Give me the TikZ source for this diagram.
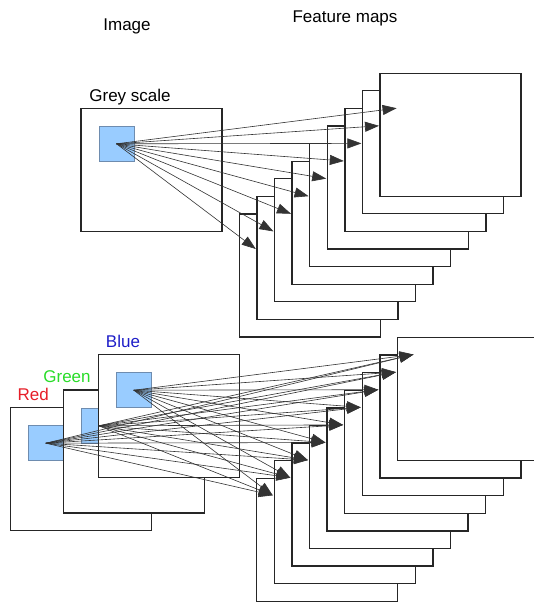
\documentclass[tikz,border=0pt]{standalone}
\usepackage{fontspec}
\setmainfont{Liberation Sans}
\usepackage{tikz}
\usetikzlibrary{calc,positioning,arrows.meta}
\definecolor{patchblue}{RGB}{153,204,255}
\definecolor{patchedge}{RGB}{110,140,175}
\definecolor{redlbl}{RGB}{230,30,40}
\definecolor{greenlbl}{RGB}{40,220,40}
\definecolor{bluelbl}{RGB}{30,30,200}

\begin{document}
\begin{tikzpicture}[
        x=1pt, y=-1pt,
        fmap/.style={draw=black!85, line width=1.3pt, fill=white,
          minimum width=141pt, minimum height=123pt, inner sep=0pt,
          outer sep=0pt, anchor=north west},
        patch/.style={draw=patchedge, line width=0.6pt, fill=patchblue,
          minimum size=35pt, inner sep=0pt, outer sep=0pt, anchor=north west},
        lbl/.style={font=\fontsize{17}{20}\selectfont, inner sep=0pt, anchor=base},
        link/.style={draw=black!80, line width=0.6pt,
          -{Triangle[length=14pt,width=10pt]}},
      ]
      \useasboundingbox (0,0) rectangle (534,602);
      \node[lbl] (image) at (127,31) {Image};
      \node[lbl] (features) at (345,22.5) {Feature maps};

      % grey scale input
      \node[lbl] (greylbl) at (130,101.5) {Grey scale};
      \node[fmap] (grey) at (81,108.3) {};
      \node[patch] (greypatch) at (99,126.3) {};
      \foreach \i in {1,...,9}
        \node[fmap] (top\i) at ({239.3+17.6*(\i-1)},{214-17.6*(\i-1)}) {};
      \foreach \i in {1,...,9}
        \draw[link] (greypatch.center) -- ($(top\i.north west)+(16.5,35)$);

      % colour input
      \node[lbl, text=redlbl] (redlbl) at (33.3,400) {Red};
      \node[lbl, text=greenlbl] (greenlbl) at (67,382.7) {Green};
      \node[lbl, text=bluelbl] (bluelbl) at (123,347.3) {Blue};
      \node[fmap] (red) at (10.7,407.7) {};
      \node[patch] (redpatch) at (28.3,425.7) {};
      \node[fmap] (green) at (63.3,390) {};
      \node[patch] (greenpatch) at (81.3,408.3) {};
      \node[fmap] (blue) at (98.7,354.7) {};
      \node[patch] (bluepatch) at (116.3,372.7) {};
      \foreach \i in {1,...,9}
        \node[fmap] (bot\i) at ({256.7+17.6*(\i-1)},{478.3-17.6*(\i-1)}) {};
      \foreach \s in {redpatch,greenpatch,bluepatch}
        \foreach \i in {1,...,9}
          \draw[link] (\s.center) -- ($(bot\i.north west)+(16,17)$);
    \end{tikzpicture}
\end{document}
